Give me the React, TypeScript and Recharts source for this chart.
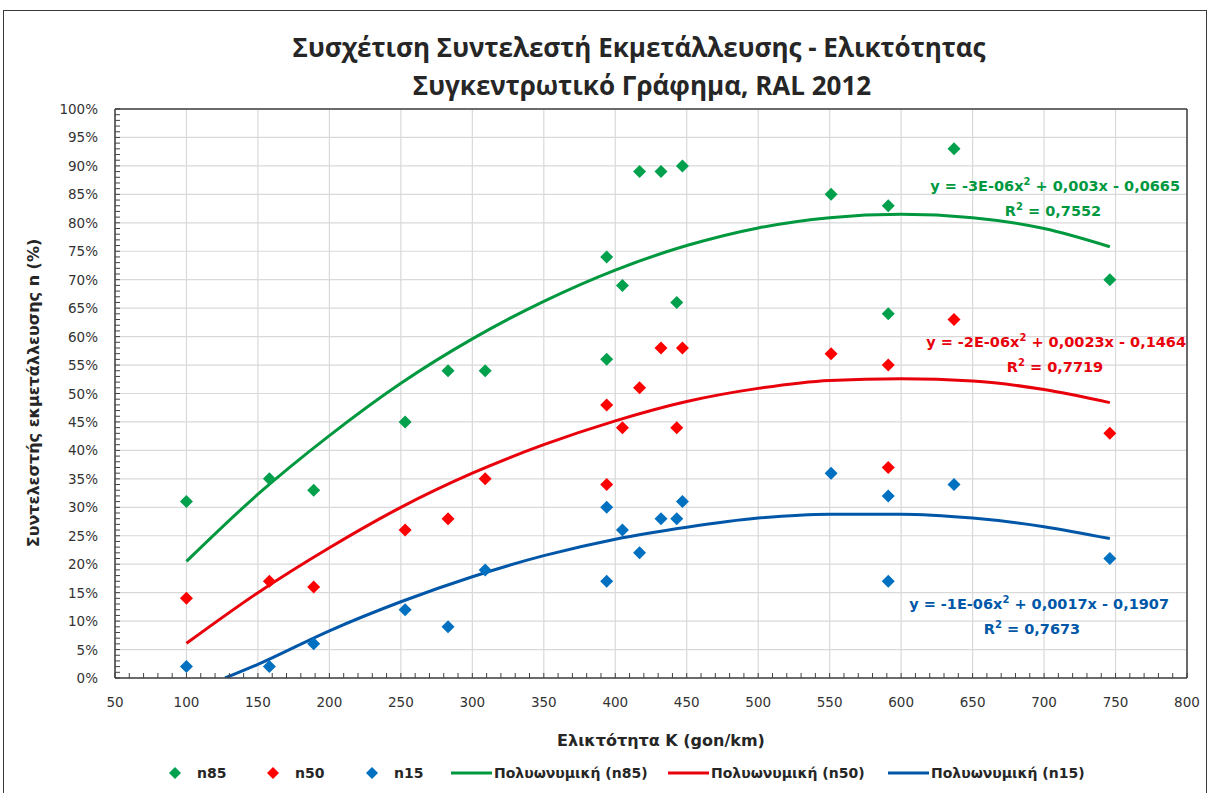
import React from 'react';
import { ComposedChart, Scatter, Line, XAxis, YAxis, CartesianGrid, ReferenceLine } from 'recharts';

// ---- Data ----
const xK = [100, 158, 189, 253, 283, 309, 394, 394, 405, 417, 432, 443, 447, 551, 591, 591, 637, 746];
const n85 = [0.31, 0.35, 0.33, 0.45, 0.54, 0.54, 0.74, 0.56, 0.69, 0.89, 0.89, 0.66, 0.90, 0.85, 0.83, 0.64, 0.93, 0.70];
const n50 = [0.14, 0.17, 0.16, 0.26, 0.28, 0.35, 0.48, 0.34, 0.44, 0.51, 0.58, 0.44, 0.58, 0.57, 0.55, 0.37, 0.63, 0.43];
const n15 = [0.02, 0.02, 0.06, 0.12, 0.09, 0.19, 0.30, 0.17, 0.26, 0.22, 0.28, 0.28, 0.31, 0.36, 0.32, 0.17, 0.34, 0.21];

// Trendline points
const trendX = [100, 150, 200, 250, 300, 350, 400, 450, 500, 550, 600, 650, 700, 746];
const trend85 = [0.205, 0.323, 0.426, 0.518, 0.596, 0.662, 0.717, 0.76, 0.791, 0.809, 0.815, 0.809, 0.79, 0.758];
const trend50 = [0.061, 0.15, 0.229, 0.3, 0.36, 0.41, 0.452, 0.486, 0.509, 0.523, 0.526, 0.522, 0.507, 0.484];
const trend15X = [127, 150, 200, 250, 300, 350, 400, 450, 500, 550, 600, 650, 700, 746];
const trend15 = [0.0, 0.024, 0.083, 0.134, 0.178, 0.215, 0.244, 0.265, 0.281, 0.288, 0.288, 0.281, 0.266, 0.245];

const xMajor = [50, 100, 150, 200, 250, 300, 350, 400, 450, 500, 550, 600, 650, 700, 750, 800];
const yMajor = [0, 0.05, 0.1, 0.15, 0.2, 0.25, 0.3, 0.35, 0.4, 0.45, 0.5, 0.55, 0.6, 0.65, 0.7, 0.75, 0.8, 0.85, 0.9, 0.95, 1];
const xMinor = Array.from({ length: 76 }, (_, i) => 50 + i * 10);
const yMinor = Array.from({ length: 101 }, (_, i) => i / 100);

const title1 = 'Συσχέτιση Συντελεστή Εκμετάλλευσης - Ελικτότητας';
const title2 = 'Συγκεντρωτικό Γράφημα, RAL 2012';
const yTitle = 'Συντελεστής εκμετάλλευσης n (%)';
const xTitle = 'Ελικτότητα K (gon/km)';

const GREEN = '#00A04C';
const GREEN_LINE = '#00983F';
const RED = '#FF0000';
const RED_LINE = '#E8000B';
const BLUE = '#0070C0';
const BLUE_LINE = '#0057A8';

const pts = (ys: number[]) => xK.map((x, i) => ({ x, y: ys[i] }));
const line = (xs: number[], ys: number[]) => xs.map((x, i) => ({ x, y: ys[i] }));

const AXIS_FONT = '"DejaVu Sans", Verdana, sans-serif';

const Diamond = (color: string) => (props: any) => {
  const { cx, cy } = props;
  const r = 6.5;
  return <polygon points={`${cx},${cy - r} ${cx + r},${cy} ${cx},${cy + r} ${cx - r},${cy}`} fill={color} />;
};

const YTick = (props: any) => {
  const { x, y, payload } = props;
  const v = Math.round(payload.value * 100);
  const major = v % 5 === 0;
  return (
    <g>
      <line x1={x} x2={x + 5} y1={y} y2={y} stroke="#404040" strokeWidth={1} />
      {major && (
        <text x={x - 17} y={y} textAnchor="end" dominantBaseline="central" fontFamily={AXIS_FONT} fontSize={13.5} fill="#333">
          {v}%
        </text>
      )}
    </g>
  );
};

const XTick = (props: any) => {
  const { x, y, payload } = props;
  const v = Math.round(payload.value);
  const major = v % 50 === 0;
  return (
    <g>
      <line x1={x} x2={x} y1={y} y2={y - 5} stroke="#404040" strokeWidth={1} />
      {major && (
        <text x={x} y={y + 24} textAnchor="middle" dominantBaseline="central" fontFamily={AXIS_FONT} fontSize={13.5} fill="#333">
          {v}
        </text>
      )}
    </g>
  );
};

const legendItems = [
  { kind: 'marker', color: GREEN, label: 'n85', x: 175 },
  { kind: 'marker', color: RED, label: 'n50', x: 273 },
  { kind: 'marker', color: BLUE, label: 'n15', x: 372 },
  { kind: 'line', color: GREEN_LINE, label: 'Πολυωνυμική (n85)', x: 451 },
  { kind: 'line', color: RED_LINE, label: 'Πολυωνυμική (n50)', x: 668 },
  { kind: 'line', color: BLUE_LINE, label: 'Πολυωνυμική (n15)', x: 888 },
];

export default function App() {
  return (
    <div style={{ position: 'absolute', left: 0, top: 0, width: 1215, height: 793, background: '#fff', overflow: 'hidden' }}>
      <div style={{ position: 'absolute', left: 3, top: 10, width: 1204, height: 800, border: '1.5px solid #3a3a3a', boxSizing: 'border-box' }} />
      <ComposedChart
        width={1215}
        height={793}
        margin={{ top: 109, right: 28, bottom: 85, left: 55 }}
        style={{ position: 'absolute', left: 0, top: 0 }}
      >
        <CartesianGrid horizontalValues={yMajor} verticalValues={xMajor} stroke="#d9d9d9" strokeWidth={1.2} />
        <XAxis
          type="number"
          dataKey="x"
          domain={[50, 800]}
          ticks={xMinor}
          interval={0}
          allowDataOverflow
          height={30}
          tickSize={0}
          tickMargin={0}
          tick={<XTick />}
          axisLine={{ stroke: '#404040', strokeWidth: 1.5 }}
          tickLine={false}
        />
        <YAxis
          type="number"
          dataKey="y"
          domain={[0, 1]}
          ticks={yMinor}
          interval={0}
          allowDataOverflow
          width={60}
          tickSize={0}
          tickMargin={0}
          tick={<YTick />}
          axisLine={{ stroke: '#404040', strokeWidth: 1.5 }}
          tickLine={false}
        />
        <ReferenceLine y={1} stroke="#404040" strokeWidth={1.5} />
        <ReferenceLine x={800} stroke="#404040" strokeWidth={1.5} />
        <Line data={line(trendX, trend85)} dataKey="y" type="monotone" stroke={GREEN_LINE} strokeWidth={3} dot={false} isAnimationActive={false} />
        <Line data={line(trendX, trend50)} dataKey="y" type="monotone" stroke={RED_LINE} strokeWidth={3} dot={false} isAnimationActive={false} />
        <Line data={line(trend15X, trend15)} dataKey="y" type="monotone" stroke={BLUE_LINE} strokeWidth={3} dot={false} isAnimationActive={false} />
        <Scatter data={pts(n85)} dataKey="y" shape={Diamond(GREEN)} isAnimationActive={false} />
        <Scatter data={pts(n50)} dataKey="y" shape={Diamond(RED)} isAnimationActive={false} />
        <Scatter data={pts(n15)} dataKey="y" shape={Diamond(BLUE)} isAnimationActive={false} />
      </ComposedChart>
      <svg width={1215} height={793} style={{ position: 'absolute', left: 0, top: 0, pointerEvents: 'none' }}>
        <text x={639} y={57} textAnchor="middle" fontFamily='"Open Sans", sans-serif' fontWeight={700} fontSize={26} fill="#262626">{title1}</text>
        <text x={642} y={95} textAnchor="middle" fontFamily='"Open Sans", sans-serif' fontWeight={700} fontSize={26} fill="#262626">{title2}</text>
        <text x={0} y={0} transform="translate(33,393) rotate(-90)" textAnchor="middle" dominantBaseline="central" fontFamily={AXIS_FONT} fontWeight={700} fontSize={16} fill="#262626">{yTitle}</text>
        <text x={661} y={740} textAnchor="middle" dominantBaseline="central" fontFamily={AXIS_FONT} fontWeight={700} fontSize={16} fill="#262626">{xTitle}</text>

        <text x={1180} y={191} textAnchor="end" fontFamily={AXIS_FONT} fontWeight={700} fontSize={14.5} fill={GREEN_LINE}>y = -3E-06x<tspan dy={-6} fontSize={10}>2</tspan><tspan dy={6}> + 0,003x - 0,0665</tspan></text>
        <text x={1053} y={216} textAnchor="middle" fontFamily={AXIS_FONT} fontWeight={700} fontSize={14.5} fill={GREEN_LINE}>R<tspan dy={-6} fontSize={10}>2</tspan><tspan dy={6}> = 0,7552</tspan></text>
        <text x={1186} y={347} textAnchor="end" fontFamily={AXIS_FONT} fontWeight={700} fontSize={14.5} fill={RED_LINE}>y = -2E-06x<tspan dy={-6} fontSize={10}>2</tspan><tspan dy={6}> + 0,0023x - 0,1464</tspan></text>
        <text x={1055} y={372} textAnchor="middle" fontFamily={AXIS_FONT} fontWeight={700} fontSize={14.5} fill={RED_LINE}>R<tspan dy={-6} fontSize={10}>2</tspan><tspan dy={6}> = 0,7719</tspan></text>
        <text x={1169} y={609} textAnchor="end" fontFamily={AXIS_FONT} fontWeight={700} fontSize={14.5} fill={BLUE_LINE}>y = -1E-06x<tspan dy={-6} fontSize={10}>2</tspan><tspan dy={6}> + 0,0017x - 0,1907</tspan></text>
        <text x={1032} y={634} textAnchor="middle" fontFamily={AXIS_FONT} fontWeight={700} fontSize={14.5} fill={BLUE_LINE}>R<tspan dy={-6} fontSize={10}>2</tspan><tspan dy={6}> = 0,7673</tspan></text>

        {legendItems.map((it) =>
          it.kind === 'marker' ? (
            <g key={it.label}>
              <polygon points={`${it.x},${773 - 6} ${it.x + 6},773 ${it.x},${773 + 6} ${it.x - 6},773`} fill={it.color} />
              <text x={it.x + 22} y={773} dominantBaseline="central" fontFamily={AXIS_FONT} fontWeight={700} fontSize={14} fill="#262626">{it.label}</text>
            </g>
          ) : (
            <g key={it.label}>
              <line x1={it.x} x2={it.x + 41} y1={773} y2={773} stroke={it.color} strokeWidth={3} />
              <text x={it.x + 43} y={773} dominantBaseline="central" fontFamily={AXIS_FONT} fontWeight={700} fontSize={14} fill="#262626">{it.label}</text>
            </g>
          )
        )}
      </svg>
    </div>
  );
}
